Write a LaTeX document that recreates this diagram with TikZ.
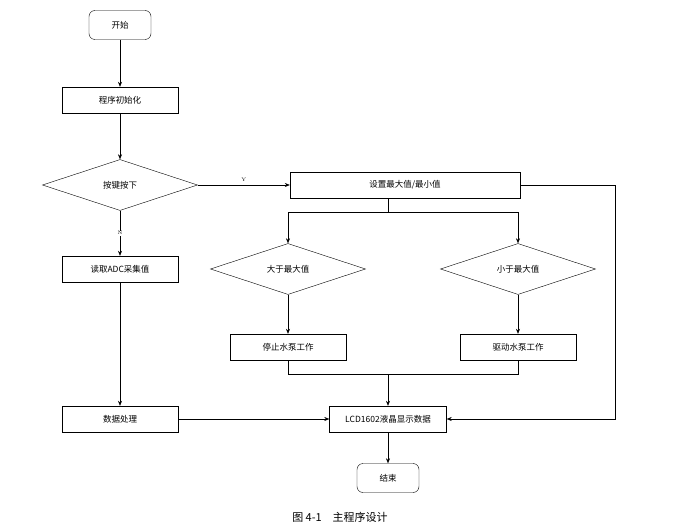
\documentclass[tikz,border=0pt]{standalone}
\usepackage{fontspec}
\newfontfamily\cjk{Noto Sans CJK SC}
\usetikzlibrary{shapes.geometric,arrows.meta}
\begin{document}
\begin{tikzpicture}[x=1pt,y=-1pt,
  every node/.style={font=\cjk\fontsize{8.5}{10}\selectfont},
  box/.style={draw,minimum width=116pt,minimum height=26pt,inner sep=0pt},
  term/.style={draw,rounded corners=6pt,minimum width=62pt,minimum height=29pt},
  dia/.style={draw,diamond,aspect=3.1,minimum width=155pt,minimum height=51pt,inner sep=0pt},
  arr/.style={-{Stealth[length=5pt,width=4pt]},line width=0.5pt},
  lab/.style={font=\fontsize{5}{6}\selectfont}]
\useasboundingbox (0,0) rectangle (673,527);
\node[term] (start) at (120,25) {开始};
\node[box] (init) at (120,100) {程序初始化};
\node[dia] (key) at (120,185) {按键按下};
\node[box,minimum width=230pt] (set) at (405,185) {设置最大值/最小值};
\node[box] (adc) at (120,269) {读取ADC采集值};
\node[dia] (gt) at (288,269) {大于最大值};
\node[dia] (lt) at (518,269) {小于最大值};
\node[box] (stop) at (288,347) {停止水泵工作};
\node[box] (drive) at (518,347) {驱动水泵工作};
\node[box] (proc) at (120,419) {数据处理};
\node[box,minimum width=117pt] (lcd) at (388,419) {LCD1602液晶显示数据};
\node[term] (end) at (388,478) {结束};
\node[font=\cjk\fontsize{11}{13}\selectfont] (cap) at (340,517) {图 4-1\quad 主程序设计};
\coordinate (s1) at (288,212); \coordinate (s2) at (518,212);
\coordinate (b1) at (288,374); \coordinate (b2) at (518,374); \coordinate (bm) at (388,374);
\coordinate (r1) at (615,185); \coordinate (r2) at (615,419);
\draw[arr] (start) -- (init);
\draw[arr] (init) -- (key);
\draw[arr] (key) -- node[lab,pos=0.5,above]{Y} (set);
\draw[arr] (key) -- node[lab,pos=0.5,fill=white,inner sep=1pt]{N} (adc);
\draw[arr] (adc) -- (proc);
\draw[arr] (proc) -- (lcd);
\draw (set.south -| bm) -- (bm |- s1);
\draw (s1) -- (s2);
\draw[arr] (s1) -- (gt);
\draw[arr] (s2) -- (lt);
\draw[arr] (gt) -- (stop);
\draw[arr] (lt) -- (drive);
\draw (stop) -- (b1) -- (b2) -- (drive);
\draw[arr] (bm) -- (lcd);
\draw[arr] (set.east) -- (r1) -- (r2) -- (lcd.east);
\draw[arr] (lcd) -- (end);
\end{tikzpicture}
\end{document}
